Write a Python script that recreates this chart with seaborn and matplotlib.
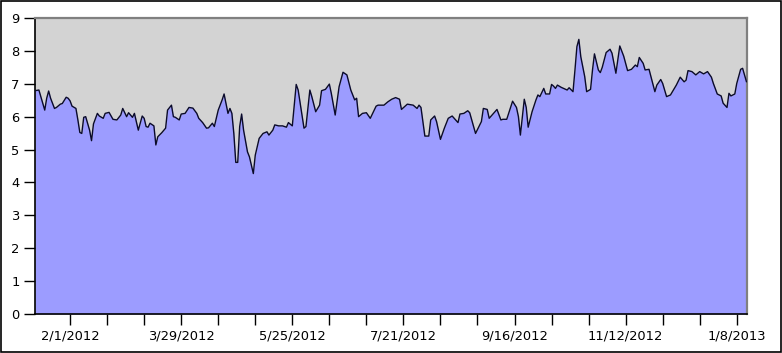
import numpy as np
import pandas as pd
import matplotlib
matplotlib.use("Agg")
import matplotlib.pyplot as plt
import matplotlib.dates as mdates
from matplotlib.patches import Rectangle
import seaborn as sns

dates = [
    "2012-01-14", "2012-01-16", "2012-01-18", "2012-01-19", "2012-01-20", "2012-01-21",
    "2012-01-22", "2012-01-24", "2012-01-25", "2012-01-27", "2012-01-28", "2012-01-30",
    "2012-01-31", "2012-02-01", "2012-02-02", "2012-02-04", "2012-02-05", "2012-02-06",
    "2012-02-07", "2012-02-08", "2012-02-09", "2012-02-11", "2012-02-12", "2012-02-13",
    "2012-02-15", "2012-02-16", "2012-02-18", "2012-02-19", "2012-02-21", "2012-02-23",
    "2012-02-25", "2012-02-27", "2012-02-28", "2012-03-01", "2012-03-02", "2012-03-04",
    "2012-03-05", "2012-03-07", "2012-03-08", "2012-03-09", "2012-03-10", "2012-03-11",
    "2012-03-12", "2012-03-13", "2012-03-15", "2012-03-16", "2012-03-17", "2012-03-19",
    "2012-03-21", "2012-03-22", "2012-03-24", "2012-03-25", "2012-03-26", "2012-03-28",
    "2012-03-29", "2012-03-31", "2012-04-02", "2012-04-04", "2012-04-06", "2012-04-07",
    "2012-04-09", "2012-04-11", "2012-04-12", "2012-04-14", "2012-04-15", "2012-04-17",
    "2012-04-19", "2012-04-20", "2012-04-21", "2012-04-22", "2012-04-23", "2012-04-24",
    "2012-04-25", "2012-04-26", "2012-04-27", "2012-04-28", "2012-04-29", "2012-04-30",
    "2012-05-02", "2012-05-03", "2012-05-05", "2012-05-06", "2012-05-08", "2012-05-10",
    "2012-05-12", "2012-05-13", "2012-05-15", "2012-05-16", "2012-05-18", "2012-05-20",
    "2012-05-22", "2012-05-23", "2012-05-25", "2012-05-27", "2012-05-28", "2012-05-31",
    "2012-06-01", "2012-06-03", "2012-06-04", "2012-06-06", "2012-06-08", "2012-06-09",
    "2012-06-11", "2012-06-13", "2012-06-14", "2012-06-16", "2012-06-18", "2012-06-20",
    "2012-06-22", "2012-06-24", "2012-06-26", "2012-06-27", "2012-06-28", "2012-06-30",
    "2012-07-02", "2012-07-04", "2012-07-07", "2012-07-08", "2012-07-11", "2012-07-13",
    "2012-07-15", "2012-07-17", "2012-07-19", "2012-07-20", "2012-07-23", "2012-07-26",
    "2012-07-28", "2012-07-29", "2012-07-30", "2012-08-01", "2012-08-03", "2012-08-04",
    "2012-08-06", "2012-08-07", "2012-08-09", "2012-08-11", "2012-08-13", "2012-08-15",
    "2012-08-18", "2012-08-19", "2012-08-21", "2012-08-23", "2012-08-24", "2012-08-27",
    "2012-08-30", "2012-08-31", "2012-09-02", "2012-09-03", "2012-09-07", "2012-09-09",
    "2012-09-10", "2012-09-12", "2012-09-15", "2012-09-17", "2012-09-18", "2012-09-19",
    "2012-09-21", "2012-09-22", "2012-09-23", "2012-09-25", "2012-09-27", "2012-09-28",
    "2012-09-29", "2012-10-01", "2012-10-02", "2012-10-04", "2012-10-05", "2012-10-06",
    "2012-10-07", "2012-10-08", "2012-10-10", "2012-10-13", "2012-10-14", "2012-10-16",
    "2012-10-17", "2012-10-18", "2012-10-19", "2012-10-20", "2012-10-22", "2012-10-23",
    "2012-10-25", "2012-10-26", "2012-10-27", "2012-10-29", "2012-10-30", "2012-10-31",
    "2012-11-02", "2012-11-04", "2012-11-05", "2012-11-07", "2012-11-09", "2012-11-11",
    "2012-11-13", "2012-11-15", "2012-11-17", "2012-11-18", "2012-11-19", "2012-11-21",
    "2012-11-22", "2012-11-24", "2012-11-27", "2012-11-28", "2012-11-30", "2012-12-01",
    "2012-12-03", "2012-12-05", "2012-12-08", "2012-12-10", "2012-12-12", "2012-12-13",
    "2012-12-14", "2012-12-16", "2012-12-18", "2012-12-20", "2012-12-22", "2012-12-24",
    "2012-12-26", "2012-12-27", "2012-12-29", "2012-12-31", "2013-01-01", "2013-01-03",
    "2013-01-04", "2013-01-05", "2013-01-07", "2013-01-08", "2013-01-10", "2013-01-11",
    "2013-01-13",
]

values = [
    6.79, 6.81, 6.41, 6.20, 6.56, 6.78,
    6.56, 6.25, 6.28, 6.38, 6.40, 6.59,
    6.56, 6.48, 6.32, 6.25, 5.90, 5.52,
    5.49, 5.98, 6.00, 5.59, 5.27, 5.78,
    6.10, 6.02, 5.95, 6.10, 6.13, 5.92,
    5.90, 6.05, 6.25, 6.00, 6.12, 5.98,
    6.10, 5.59, 5.80, 6.02, 5.95, 5.70,
    5.68, 5.80, 5.72, 5.14, 5.39, 5.51,
    5.65, 6.20, 6.35, 6.00, 5.98, 5.90,
    6.08, 6.10, 6.28, 6.26, 6.10, 5.95,
    5.82, 5.65, 5.66, 5.80, 5.70, 6.20,
    6.51, 6.69, 6.40, 6.10, 6.25, 6.10,
    5.49, 4.61, 4.61, 5.70, 6.08, 5.59,
    4.93, 4.78, 4.27, 4.83, 5.34, 5.49,
    5.54, 5.44, 5.59, 5.75, 5.72, 5.72,
    5.68, 5.82, 5.72, 6.98, 6.81, 5.65,
    5.70, 6.81, 6.61, 6.15, 6.35, 6.79,
    6.83, 6.99, 6.71, 6.05, 6.91, 7.35,
    7.27, 6.81, 6.51, 6.56, 6.00, 6.10,
    6.12, 5.95, 6.32, 6.35, 6.35, 6.45,
    6.53, 6.58, 6.53, 6.22, 6.38, 6.35,
    6.25, 6.35, 6.28, 5.41, 5.41, 5.90,
    6.02, 5.85, 5.31, 5.65, 5.95, 6.02,
    5.82, 6.08, 6.10, 6.18, 6.12, 5.49,
    5.85, 6.25, 6.22, 5.95, 6.22, 5.90,
    5.92, 5.92, 6.47, 6.28, 6.00, 5.44,
    6.53, 6.28, 5.68, 6.15, 6.51, 6.66,
    6.61, 6.86, 6.69, 6.69, 6.98, 6.93,
    6.86, 6.96, 6.89, 6.81, 6.88, 6.76,
    7.42, 8.13, 8.35, 7.82, 7.22, 6.76,
    6.83, 7.42, 7.91, 7.42, 7.34, 7.50,
    7.95, 8.05, 7.93, 7.32, 8.15, 7.84,
    7.40, 7.44, 7.57, 7.52, 7.80, 7.62,
    7.42, 7.44, 6.76, 6.96, 7.13, 7.01,
    6.61, 6.66, 6.96, 7.20, 7.06, 7.11,
    7.40, 7.37, 7.27, 7.37, 7.30, 7.37,
    7.20, 7.01, 6.69, 6.63, 6.41, 6.28,
    6.71, 6.63, 6.69, 7.01, 7.44, 7.47,
    7.06,
]

y_ticks = [0, 1, 2, 3, 4, 5, 6, 7, 8, 9]
first_tick = "2012-02-01"
tick_step_days = 19
n_ticks = 19
label_every = 3

df = pd.DataFrame({"date": pd.to_datetime(dates), "value": values})

sns.set_style("white")
plt.rcParams["font.family"] = ["DejaVu Sans"]

fig = plt.figure(figsize=(7.82, 3.53), dpi=100)
W, H = 782, 353
ax = fig.add_axes([35 / W, (H - 314) / H, (746.5 - 35) / W, (314 - 18) / H])

ax.set_facecolor("#d3d3d3")
ax.fill_between(df["date"], 0, df["value"], color="#9c9cff", linewidth=0, zorder=2)
sns.lineplot(data=df, x="date", y="value", ax=ax, color="#0a0a2a", linewidth=1.0, zorder=3)

ax.set_xlim(df["date"].iloc[0], df["date"].iloc[-1])
ax.set_ylim(0, 9)
ax.set_yticks(y_ticks)
ax.set_yticklabels([str(t) for t in y_ticks])

tick_dates = pd.date_range(first_tick, periods=n_ticks, freq=f"{tick_step_days}D")
ax.set_xticks(mdates.date2num(tick_dates.to_pydatetime()))
ax.set_xticklabels([f"{d.month}/{d.day}/{d.year}" if i % label_every == 0 else ""
                    for i, d in enumerate(tick_dates)])

ax.set_xlabel("")
ax.set_ylabel("")
ax.tick_params(axis="both", which="major", direction="out", length=8, width=1,
               color="black", labelsize=9.4, labelcolor="black",
               bottom=True, left=True, top=False, right=False)
ax.tick_params(axis="x", pad=3)
ax.tick_params(axis="y", pad=3)

for side in ["left", "bottom"]:
    ax.spines[side].set_color("black")
    ax.spines[side].set_linewidth(1.2)
for side in ["top", "right"]:
    ax.spines[side].set_color("#808080")
    ax.spines[side].set_linewidth(1.6)
    ax.spines[side].set_visible(True)

fig.patches.append(Rectangle((0.0008, 0.0015), 0.9984, 0.997, transform=fig.transFigure,
                             fill=False, edgecolor="black", linewidth=1.2))

fig.savefig("out.png", dpi=100)
